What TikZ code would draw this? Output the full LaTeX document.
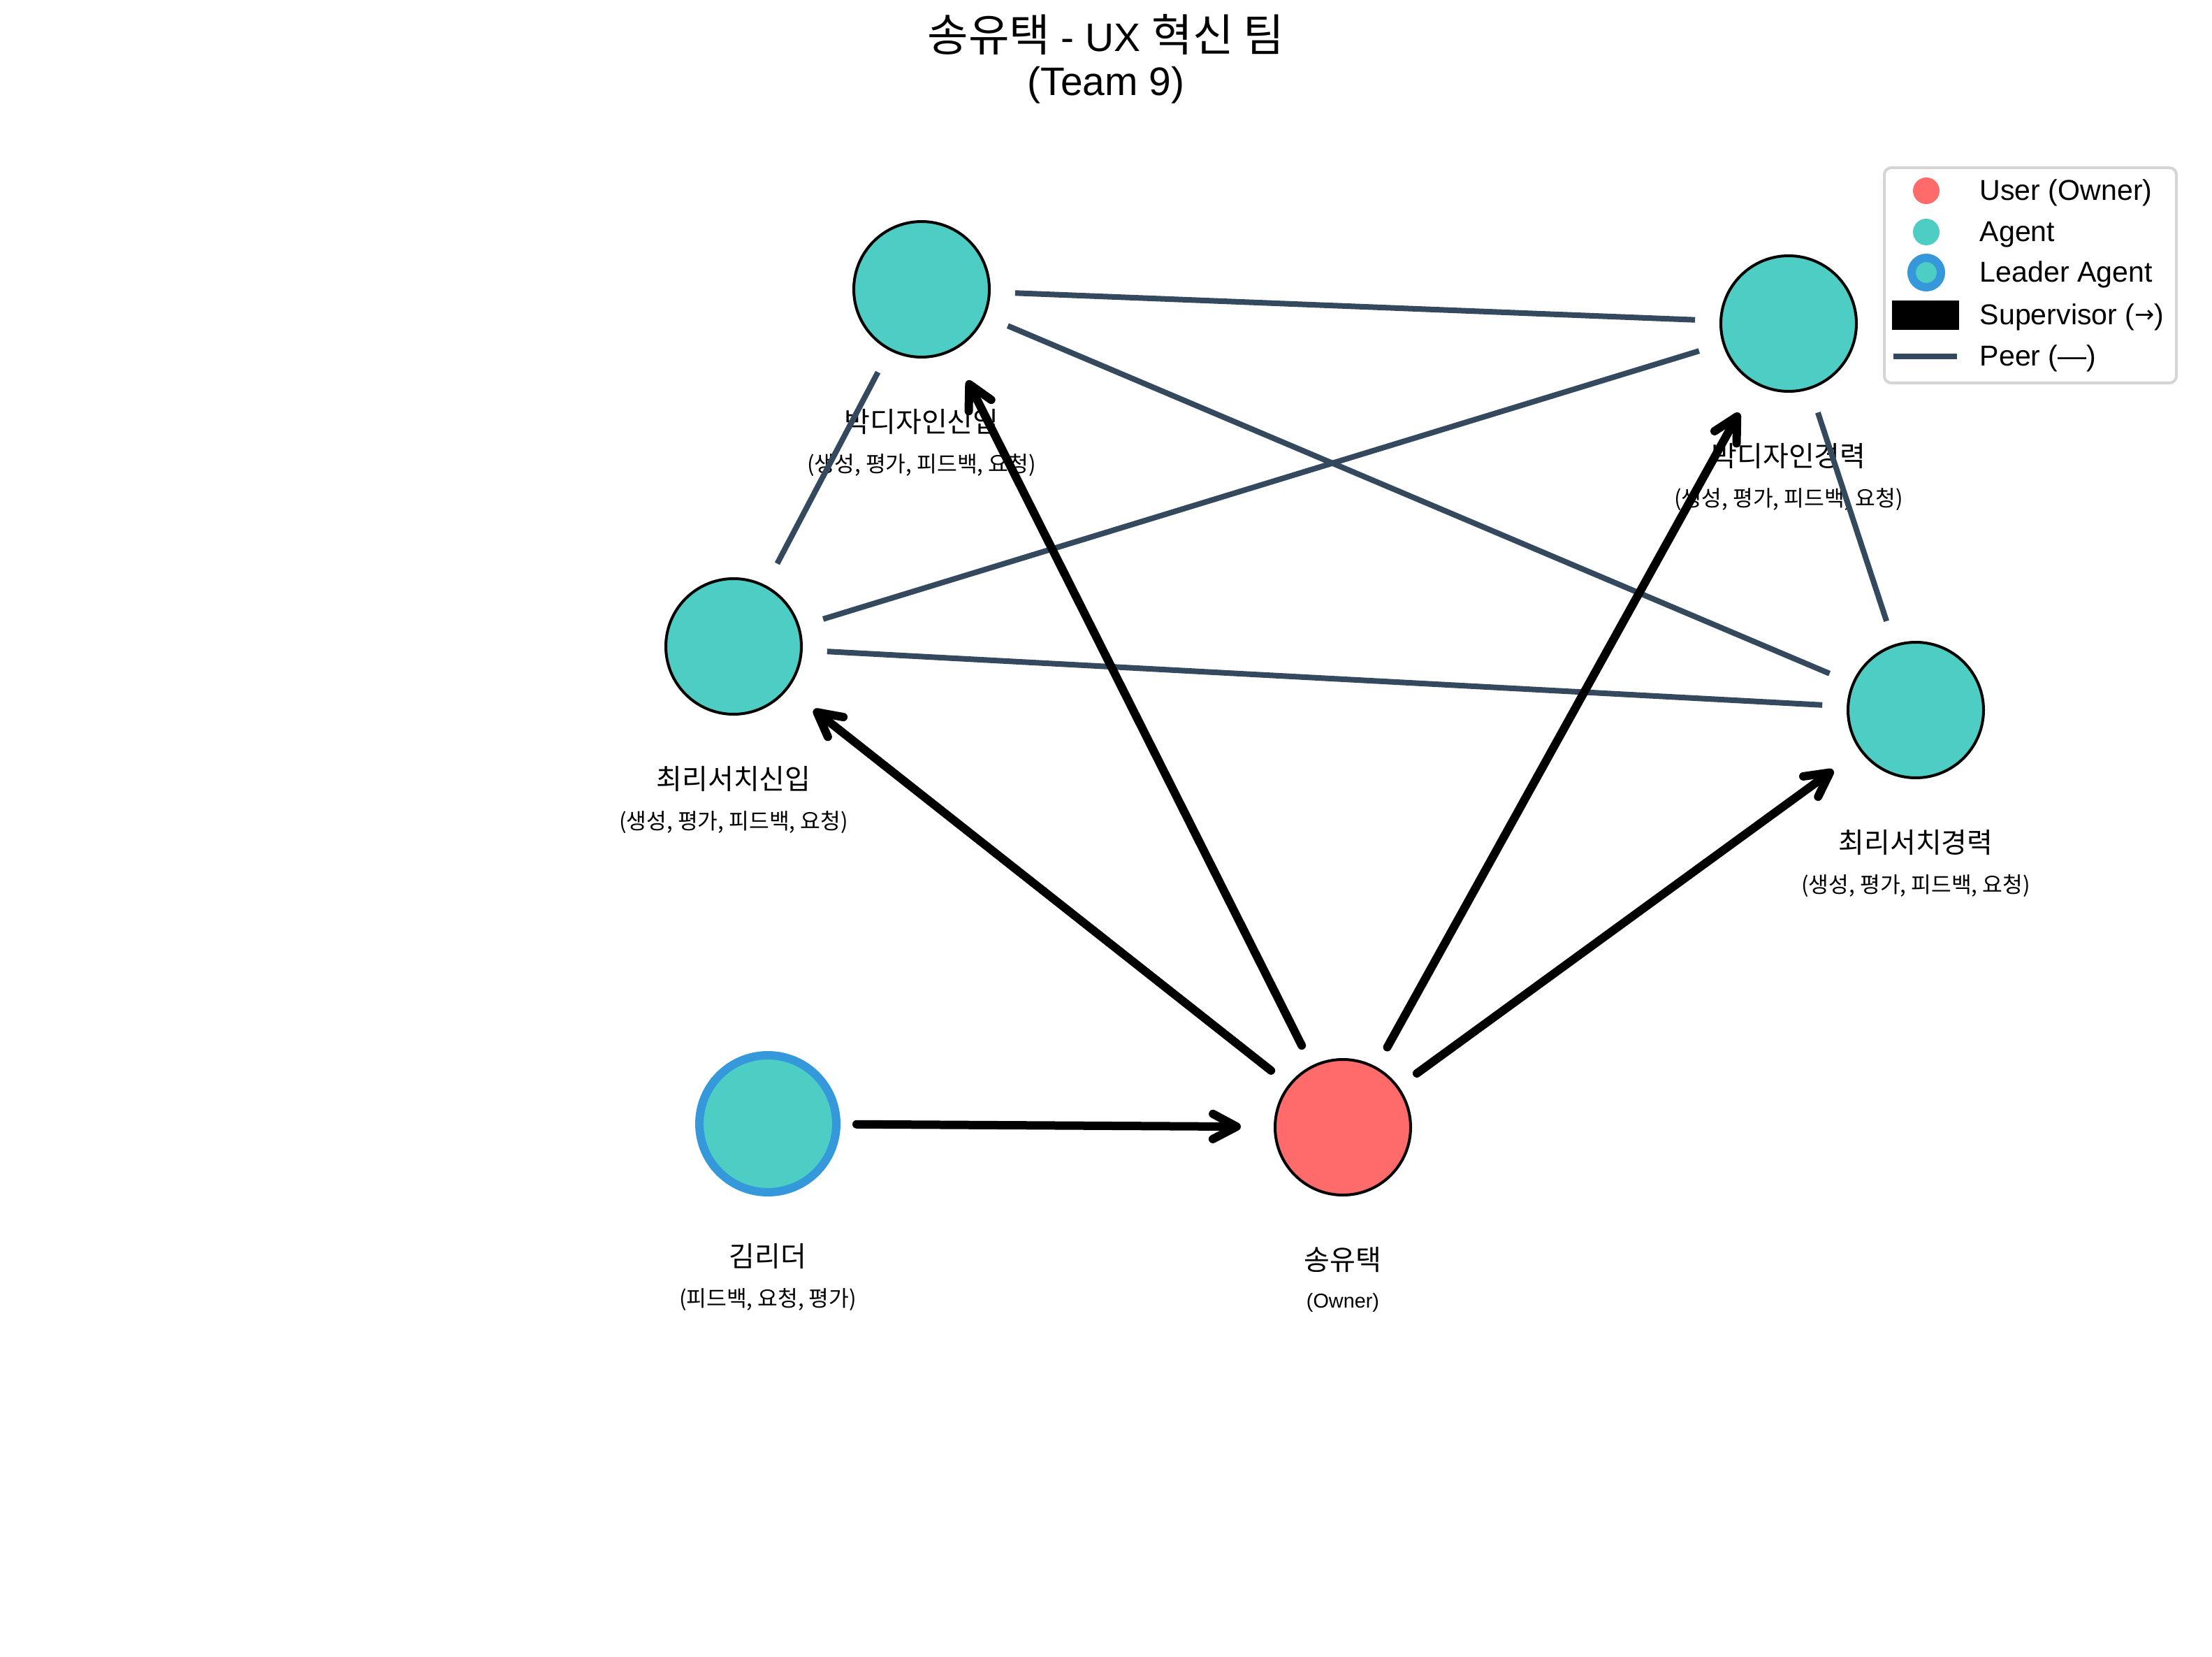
\documentclass[tikz,border=0pt]{standalone}
\usepackage{fontspec}
\setmainfont{Liberation Sans}
\newfontfamily\kr{Noto Sans CJK KR}
\newfontfamily\symfont{DejaVu Sans}
\usetikzlibrary{arrows.meta}
\definecolor{agentc}{HTML}{4ECDC4}
\definecolor{ownerc}{HTML}{FF6B6B}
\definecolor{leaderc}{HTML}{3498DB}
\definecolor{peerc}{HTML}{34495E}
\definecolor{legendedge}{HTML}{D5D5D5}

\begin{document}
\begin{tikzpicture}[
  agentnode/.style={circle, draw=black, line width=0.04cm, fill=agentc,
    minimum size=1.94cm, inner sep=0pt, outer sep=0pt},
  ownernode/.style={agentnode, fill=ownerc},
  leadernode/.style={circle, draw=leaderc, line width=0.12cm, fill=agentc,
    minimum size=1.96cm, inner sep=0pt, outer sep=0pt},
  membername/.style={font=\kr\fontsize{11.4}{13}\selectfont, inner sep=0pt},
  memberrole/.style={font=\kr\fontsize{8.9}{10}\selectfont, inner sep=0pt},
  rolelatin/.style={font=\fontsize{8.2}{10}\selectfont, inner sep=0pt},
  peerlink/.style={draw=peerc, line width=0.08cm, shorten <=0.37cm, shorten >=0.37cm},
  suplink/.style={draw=black, line width=0.12cm, line cap=round,
    -{Straight Barb[length=0.34cm,width=0.36cm,round]},
    shorten <=0.34cm, shorten >=0.49cm},
  titletext/.style={font=\fontsize{16.2}{19}\selectfont, inner sep=0pt, anchor=base},
  legtext/.style={font=\fontsize{11.7}{14}\selectfont, inner sep=0pt, anchor=base west},
]
\useasboundingbox (0,0) rectangle (31.66,-23.71);

% title
\node[titletext] (title1) at (15.83,-0.74)
  {{\kr\fontsize{18.1}{19}\selectfont 송유택} - UX {\kr\fontsize{18.1}{19}\selectfont 혁신 팀}};
\node[titletext] (title2) at (15.83,-1.37) {(Team 9)};

% team members
\node[agentnode]  (psn)  at (13.19,-4.14)  {};
\node[agentnode]  (pse)  at (25.60,-4.63)  {};
\node[agentnode]  (csn)  at (10.50,-9.25)  {};
\node[agentnode]  (cse)  at (27.42,-10.16) {};
\node[leadernode] (kim)  at (10.99,-16.08) {};
\node[ownernode]  (song) at (19.22,-16.13) {};

% names and roles
\node[membername] (psnname) at (13.19,-6.04) {박디자인신입};
\node[memberrole] (psnrole) at (13.19,-6.66) {(생성, 평가, 피드백, 요청)};
\node[membername] (psename) at (25.60,-6.53) {박디자인경력};
\node[memberrole] (pserole) at (25.60,-7.15) {(생성, 평가, 피드백, 요청)};
\node[membername] (csnname) at (10.50,-11.15) {최리서치신입};
\node[memberrole] (csnrole) at (10.50,-11.77) {(생성, 평가, 피드백, 요청)};
\node[membername] (csename) at (27.42,-12.06) {최리서치경력};
\node[memberrole] (cserole) at (27.42,-12.68) {(생성, 평가, 피드백, 요청)};
\node[membername] (kimname) at (10.99,-17.98) {김리더};
\node[memberrole] (kimrole) at (10.99,-18.60) {(피드백, 요청, 평가)};
\node[membername] (songname) at (19.22,-18.03) {송유택};
\node[rolelatin] (songrole) at (19.22,-18.64) {(Owner)};

% peer links
\draw[peerlink] (psn) -- (pse);
\draw[peerlink] (psn) -- (cse);
\draw[peerlink] (psn) -- (csn);
\draw[peerlink] (pse) -- (csn);
\draw[peerlink] (pse) -- (cse);
\draw[peerlink] (csn) -- (cse);

% supervisor links
\draw[suplink, shorten <=0.29cm] (kim) -- (song);
\draw[suplink] (song) -- (csn);
\draw[suplink] (song) -- (psn);
\draw[suplink] (song) -- (pse);
\draw[suplink] (song) -- (cse);

% legend
\node[draw=legendedge, line width=0.04cm, rounded corners=0.1cm, fill=white,
  minimum width=4.18cm, minimum height=3.08cm, inner sep=0pt] (legendbox) at (29.06,-3.94) {};
\node[circle, fill=ownerc, minimum size=0.38cm, inner sep=0pt] (lgowner) at (27.57,-2.73) {};
\node[circle, fill=agentc, minimum size=0.38cm, inner sep=0pt] (lgagent) at (27.57,-3.32) {};
\node[circle, draw=leaderc, line width=0.12cm, fill=agentc, minimum size=0.42cm, inner sep=0pt] (lgleader) at (27.57,-3.90) {};
\node[fill=black, minimum width=0.96cm, minimum height=0.42cm, inner sep=0pt] (lgsup) at (27.56,-4.51) {};
\coordinate (lgpeerA) at (27.10,-5.10);
\coordinate (lgpeerB) at (28.01,-5.10);
\draw[draw=peerc, line width=0.08cm] (lgpeerA) -- (lgpeerB);
\node[legtext] (lgt1) at (28.33,-2.87) {User (Owner)};
\node[legtext] (lgt2) at (28.33,-3.46) {Agent};
\node[legtext] (lgt3) at (28.33,-4.04) {Leader Agent};
\node[legtext] (lgt4) at (28.33,-4.65)
  {Supervisor ({\symfont\fontsize{9.6}{11}\selectfont\raisebox{0.9pt}{→}})};
\node[legtext] (lgt5) at (28.33,-5.24) {Peer (—)};
\end{tikzpicture}
\end{document}
